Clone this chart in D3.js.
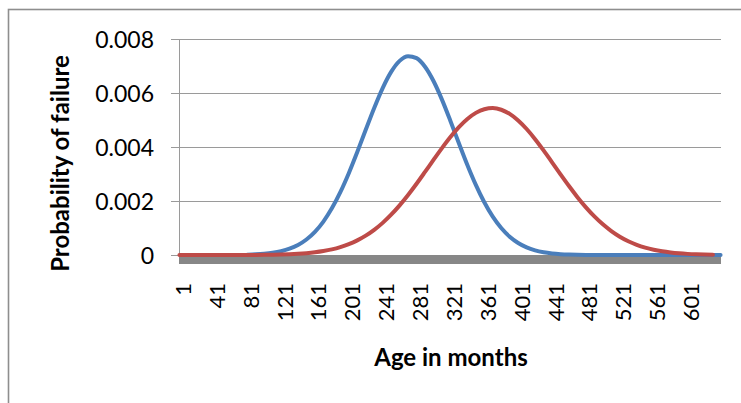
<!DOCTYPE html>
<html>
<head>
<meta charset="utf-8">
<script src="https://cdn.jsdelivr.net/npm/d3@7"></script>
<style>
  html, body { margin: 0; padding: 0; background: #fff; }
  svg { display: block; }
  text { font-family: Lato, "Open Sans", sans-serif; fill: #000; }
</style>
</head>
<body>
<svg id="chart" width="741" height="403"></svg>
<script>
// ---- data ----
const monthCount = 640;
const xTickMonths = [1, 41, 81, 121, 161, 201, 241, 281, 321, 361, 401, 441, 481, 521, 561, 601];
const yTicks = [0, 0.002, 0.004, 0.006, 0.008];
const yTickLabels = ["0", "0.002", "0.004", "0.006", "0.008"];
const sampleMonths = [1, 11, 21, 31, 41, 51, 61, 71, 81, 91, 101, 111, 121, 131, 141, 151, 161, 171, 181, 191,
  201, 211, 221, 231, 241, 251, 261, 271, 281, 291, 301, 311, 321, 331, 341, 351, 361, 371, 381, 391,
  401, 411, 421, 431, 441, 451, 461, 471, 481, 491, 501, 511, 521, 531, 541, 551, 561, 571, 581, 591,
  601, 611, 621, 631, 640];
const blueValues = [null, null, null, null, null, null, null, null, 0.0000133, 0.0000252,
  0.0000462, 0.0000819, 0.0001403, 0.000232, 0.000371, 0.000574, 0.000858, 0.001238, 0.001727, 0.002327,
  0.003030, 0.003813, 0.004636, 0.005446, 0.006183, 0.006783, 0.007190, 0.007365, 0.007290, 0.006972,
  0.006443, 0.005754, 0.004965, 0.004140, 0.003335, 0.002597, 0.001953, 0.001420, 0.000997, 0.000677,
  0.000444, 0.000281, 0.000172, 0.000102, 0.0000583, 0.0000322, 0.0000172, 0.0000089, 0.0000044, 0.0000021,
  0.0000010, 0.0000004, 0.0000002, 0.0000001, 0, 0, 0, 0, 0, 0,
  0, 0, 0, 0, 0];
const redValues = [0.00000002, 0.00000004, 0.00000008, 0.00000015, 0.00000028, 0.0000005, 0.00000089, 0.00000155, 0.00000265, 0.00000445,
  0.0000073, 0.0000119, 0.0000189, 0.0000295, 0.0000453, 0.0000682, 0.0001008, 0.0001463, 0.0002085, 0.0002918,
  0.0004009, 0.000541, 0.000717, 0.000932, 0.001190, 0.001493, 0.001839, 0.002223, 0.002639, 0.003077,
  0.003522, 0.003959, 0.004369, 0.004735, 0.005038, 0.005264, 0.005400, 0.005440, 0.005380, 0.005225,
  0.004983, 0.004666, 0.004290, 0.003873, 0.003433, 0.002988, 0.002554, 0.002143, 0.001766, 0.001429,
  0.001135, 0.000886, 0.000678, 0.000510, 0.000377, 0.000273, 0.0001945, 0.000136, 0.0000934, 0.0000629,
  0.0000417, 0.0000271, 0.0000173, 0.0000108, null];

// ---- layout ----
const svg = d3.select("#chart");
const plotLeft = 179, plotRight = 721, plotTop = 39, plotBottom = 255;

const x = d3.scaleLinear().domain([0.5, monthCount + 0.5]).range([plotLeft, plotRight]);
const y = d3.scaleLinear().domain([0, 0.008]).range([plotBottom, plotTop]);

svg.append("rect").attr("width", 741).attr("height", 403).attr("fill", "#fff");
// outer chart frame (cropped at right/bottom)
svg.append("rect")
  .attr("x", 8.5).attr("y", 9.5).attr("width", 800).attr("height", 500)
  .attr("fill", "none").attr("stroke", "#8e8e8e").attr("stroke-width", 1.6);

// horizontal gridlines + tick marks
const yAxis = d3.axisLeft(y).tickValues(yTicks).tickFormat((d, i) => yTickLabels[i])
  .tickSize(-(plotRight - plotLeft)).tickPadding(0);
const yg = svg.append("g").attr("transform", `translate(${plotLeft},0)`).call(yAxis);
yg.select(".domain").remove();
yg.selectAll(".tick line").attr("x1", -8).attr("stroke", "#9a9a9a").attr("stroke-width", 1);
yg.selectAll(".tick text")
  .attr("x", -25).attr("dy", "0.36em")
  .style("font-size", "23px").attr("fill", "#000");

// vertical axis line
svg.append("line")
  .attr("x1", plotLeft + 0.5).attr("x2", plotLeft + 0.5)
  .attr("y1", plotTop).attr("y2", plotBottom + 9)
  .attr("stroke", "#9a9a9a").attr("stroke-width", 1);

// thick grey category axis band
svg.append("rect")
  .attr("x", plotLeft).attr("y", plotBottom)
  .attr("width", plotRight - plotLeft).attr("height", 9)
  .attr("fill", "#878787");

// x tick labels (rotated)
const xAxis = d3.axisBottom(x).tickValues(xTickMonths).tickFormat(d => String(d)).tickSize(0);
const xg = svg.append("g").attr("transform", `translate(0,${plotBottom})`).call(xAxis);
xg.select(".domain").remove();
xg.selectAll(".tick text")
  .attr("transform", "translate(11,28) rotate(-90)")
  .attr("x", 0).attr("y", 0).attr("dy", 0)
  .attr("text-anchor", "end")
  .style("font-size", "22px").attr("fill", "#000");

// series lines
const line = d3.line()
  .defined(d => d[1] !== null)
  .x(d => x(d[0]))
  .y(d => y(d[1]))
  .curve(d3.curveMonotoneX);

const series = [
  { values: blueValues, color: "#4a7ebb" },
  { values: redValues, color: "#be4b48" }
];
series.forEach(s => {
  svg.append("path")
    .datum(sampleMonths.map((m, i) => [m, s.values[i]]))
    .attr("d", line)
    .attr("fill", "none")
    .attr("stroke", s.color)
    .attr("stroke-width", 4)
    .attr("stroke-linecap", "round")
    .attr("stroke-linejoin", "round");
});

// axis titles
svg.append("text")
  .attr("transform", "translate(68.5,163.5) rotate(-90)")
  .attr("text-anchor", "middle")
  .style("font-size", "24px").style("font-weight", "bold")
  .text("Probability of failure");

svg.append("text")
  .attr("x", 451).attr("y", 366)
  .attr("text-anchor", "middle")
  .style("font-size", "24px").style("font-weight", "bold")
  .text("Age in months");
</script>
</body>
</html>
